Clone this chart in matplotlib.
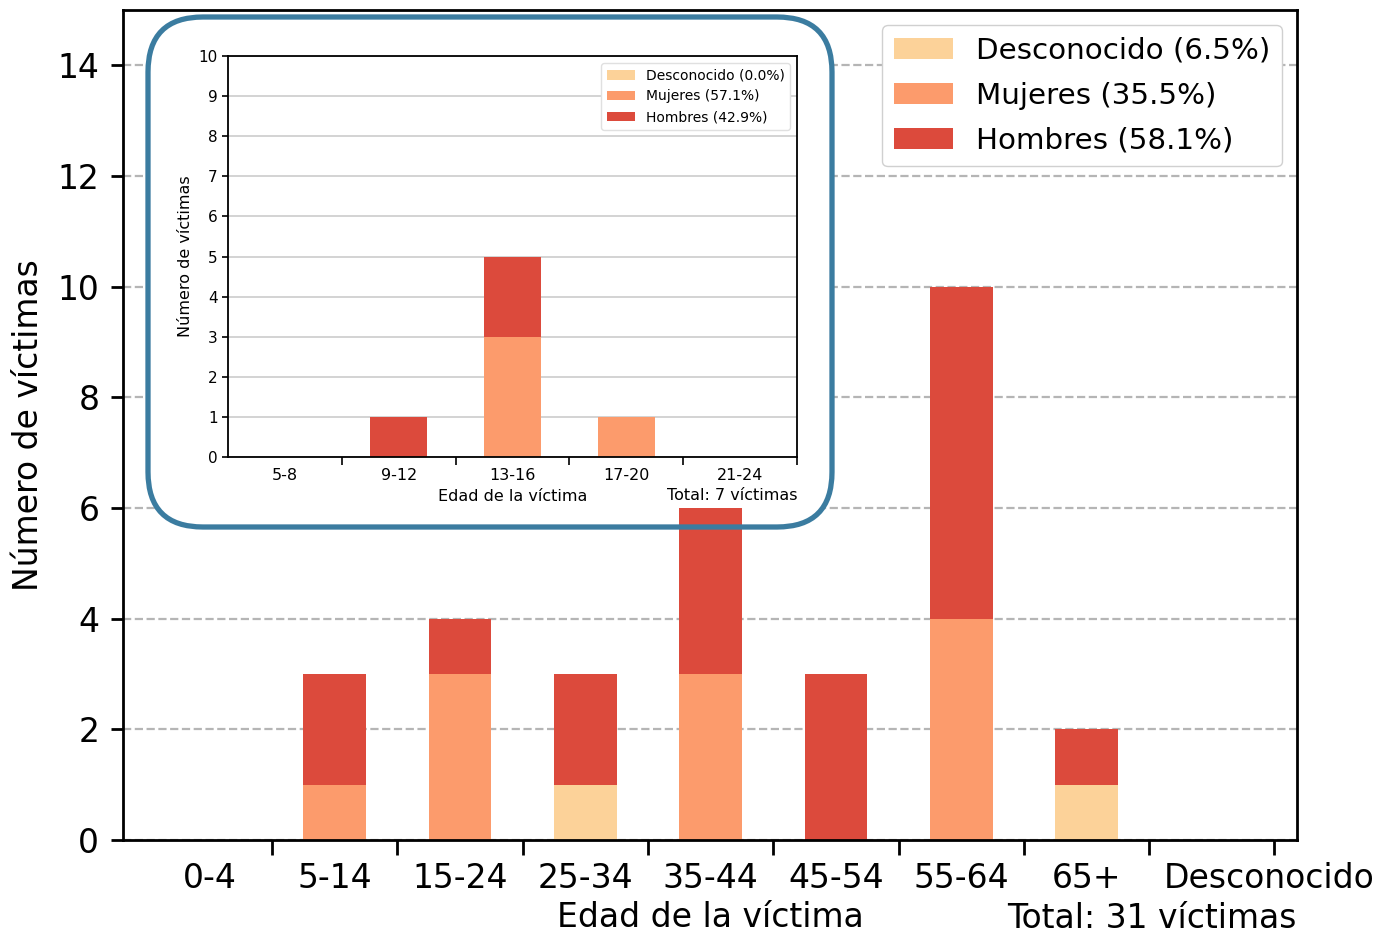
import numpy as np
import matplotlib
matplotlib.use('Agg')
import matplotlib.pyplot as plt
import matplotlib.transforms as mtransforms
from matplotlib.patches import FancyBboxPatch

# Main chart data (victims by age group)
grupos = ['0-4', '5-14', '15-24', '25-34', '35-44', '45-54', '55-64', '65+', 'Desconocido']
desconocido = [0, 0, 0, 1, 0, 0, 0, 1, 0]
mujeres = [0, 1, 3, 0, 3, 0, 4, 0, 0]
hombres = [0, 2, 1, 2, 3, 3, 6, 1, 0]

# Inset chart data (young victims)
grupos_inset = ['5-8', '9-12', '13-16', '17-20', '21-24']
desconocido_inset = [0, 0, 0, 0, 0]
mujeres_inset = [0, 0, 3, 1, 0]
hombres_inset = [0, 1, 2, 0, 0]

colores = ['#fcd299', '#fc9b6c', '#dc4a3c']
nombres = ['Desconocido', 'Mujeres', 'Hombres']


def stacked(ax, grupos, series, zorder=2):
    x = np.arange(len(grupos))
    bottom = np.zeros(len(grupos))
    total = sum(sum(s) for s in series)
    for nombre, color, s in zip(nombres, colores, series):
        s = np.array(s, dtype=float)
        pct = 100.0 * s.sum() / total
        ax.bar(x, s, 0.5, bottom=bottom, color=color, zorder=zorder,
               label=f'{nombre} ({pct:.1f}%)')
        bottom += s
    return x, total


fig = plt.figure(figsize=(13.77, 9.35), dpi=100)
ax = fig.add_axes([0.0893, 0.1016, 0.8526, 0.8877])

x, total = stacked(ax, grupos, [desconocido, mujeres, hombres])
ax.set_xlim(-0.69, 8.68)
ax.set_ylim(0, 15)
ax.set_xticks(x)
ax.set_xticklabels(grupos, fontsize=23.8)
ax.set_xticks(x + 0.5, minor=True)
ax.tick_params(axis='x', which='major', length=0, pad=16)
ax.tick_params(axis='x', which='minor', length=11, width=2)
# last label sits further right in the reference
ultimo = ax.get_xticklabels()[-1]
ultimo.set_transform(ultimo.get_transform() +
                     mtransforms.ScaledTranslation(0.57, 0, fig.dpi_scale_trans))
ax.set_yticks(range(0, 15, 2))
ax.tick_params(axis='y', labelsize=23.8, length=9, width=2, pad=8)
ax.set_ylabel('Número de víctimas', fontsize=23.8, labelpad=9)
ax.set_xlabel('Edad de la víctima', fontsize=23.8, labelpad=4)
ax.text(1.0, -0.095, f'Total: {total} víctimas', transform=ax.transAxes,
        ha='right', va='center', fontsize=23.8)
ax.grid(axis='y', linestyle='--', color='#b5b5b5', linewidth=1.6, zorder=0.5)
ax.set_axisbelow(True)
for sp in ax.spines.values():
    sp.set_linewidth(2)
ax.legend(loc='upper right', fontsize=21.2, framealpha=1, edgecolor='#d0d0d0',
          fancybox=True, labelspacing=0.58)

# White rounded background for the inset (pixel coords)
caja = (148, 408, 684, 510)
fondo = FancyBboxPatch(caja[:2], caja[2], caja[3],
                       boxstyle='round,pad=0,rounding_size=55',
                       transform=None, facecolor='white', edgecolor='none',
                       zorder=1)
ax.add_patch(fondo)

# Inset chart
axi = fig.add_axes([0.1656, 0.5112, 0.4132, 0.4289])
xi, total_i = stacked(axi, grupos_inset,
                      [desconocido_inset, mujeres_inset, hombres_inset])
axi.set_xlim(-0.5, 4.5)
axi.set_ylim(0, 10)
axi.set_xticks(xi)
axi.set_xticklabels(grupos_inset, fontsize=11.5)
axi.set_xticks(xi + 0.5, minor=True)
axi.tick_params(axis='x', which='major', length=0, pad=8)
axi.tick_params(axis='x', which='minor', length=6, width=1.2)
axi.set_yticks(range(0, 11))
axi.tick_params(axis='y', labelsize=11, length=4, width=1.2)
axi.set_ylabel('Número de víctimas', fontsize=11.5)
axi.set_xlabel('Edad de la víctima', fontsize=11.5, labelpad=4)
axi.text(1.0, -0.097, f'Total: {total_i} víctimas', transform=axi.transAxes,
         ha='right', va='center', fontsize=11.5)
axi.grid(axis='y', color='#cccccc', linewidth=1.2, zorder=0.5)
axi.set_axisbelow(True)
for sp in axi.spines.values():
    sp.set_linewidth(1.3)
axi.legend(loc='upper right', fontsize=10, framealpha=1, edgecolor='#e0e0e0')

# Blue rounded border around the inset
borde = FancyBboxPatch(caja[:2], caja[2], caja[3],
                       boxstyle='round,pad=0,rounding_size=55',
                       transform=None, facecolor='none', edgecolor='#3b7ca0',
                       linewidth=3.8, zorder=5)
fig.patches.append(borde)

fig.savefig('out.png', dpi=100)
